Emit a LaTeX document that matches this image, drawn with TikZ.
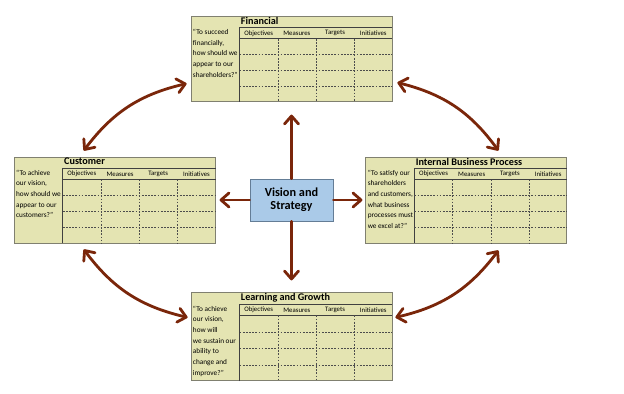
\documentclass[tikz,border=0pt]{standalone}
\usepackage{fontspec}
\setmainfont{Carlito}
\usetikzlibrary{arrows.meta, positioning, calc}

\definecolor{khaki}{RGB}{228,228,178}
\definecolor{boxline}{RGB}{128,128,112}
\definecolor{rust}{RGB}{122,38,10}
\definecolor{skyfill}{RGB}{170,202,232}
\definecolor{skyline}{RGB}{100,125,150}

\begin{document}
\begin{tikzpicture}[
    x=0.03cm, y=-0.03cm,
    >={Straight Barb[length=0.24cm, width=0.42cm, round]},
    panel/.style={rectangle, draw=boxline, fill=khaki, line width=0.7pt, minimum width=6.03cm, inner sep=0pt},
    vision/.style={rectangle, draw=skyline, fill=skyfill, line width=0.7pt, minimum width=2.49cm, minimum height=1.26cm, align=center, font=\fontsize{10.5}{11}\selectfont\bfseries},
    title/.style={anchor=north west, inner sep=1pt, font=\fontsize{8.7}{9}\selectfont\bfseries},
    question/.style={anchor=north west, align=left, inner sep=1pt, font=\fontsize{6.2}{9.1}\selectfont},
    head/.style={inner sep=0pt, font=\fontsize{5.8}{6}\selectfont},
    tableline/.style={draw=black!75, line width=0.6pt},
    gridline/.style={draw=black!70, line width=0.4pt, dash pattern=on 1.5pt off 1.2pt},
    arrow/.style={->, draw=rust, line width=2.4pt, line cap=round},
    twoway/.style={arrow, <->, bend left=20}
]
\useasboundingbox (0,0) rectangle (624,393);

% Centre
\node[vision] (vis) at (291.5,200) {Vision and\\Strategy};

% Perspectives
\node[panel, minimum height=2.55cm, above=2.31cm of vis] (fin) {};
\node[panel, minimum height=2.58cm, left=1.02cm of vis] (cust) {};
\node[panel, minimum height=2.58cm, right=0.96cm of vis] (int) {};
\node[panel, minimum height=2.64cm, below=2.13cm of vis] (learn) {};

% Titles
\node[title] (fin-t) at ($(fin.north west)+(49,0)$) {Financial};
\node[title] (cust-t) at ($(cust.north west)+(49,0)$) {Customer};
\node[title] (int-t) at ($(int.north west)+(49,0)$) {Internal Business Process};
\node[title] (learn-t) at ($(learn.north west)+(49,0)$) {Learning and Growth};

% Questions
\node[question] (fin-q) at ($(fin.north west)+(1,12)$) {“To succeed\\financially,\\how should we\\appear to our\\shareholders?”};
\node[question] (cust-q) at ($(cust.north west)+(1,12)$) {“To achieve\\our vision,\\how should we\\appear to our\\customers?”};
\node[question] (int-q) at ($(int.north west)+(1,12)$) {“To satisfy our\\shareholders\\and customers,\\what business\\processes must\\we excel at?”};
\node[question] (learn-q) at ($(learn.north west)+(1,12)$) {“To achieve\\our vision,\\how will\\we sustain our\\ability to\\change and\\improve?”};

% Tables
\foreach \b in {fin,cust,int,learn} {
  \coordinate (\b-tl) at ($(\b.north west)+(49,12)$);
  \coordinate (\b-hd) at ($(\b-tl)+(0,11)$);
  \draw[tableline] (\b-tl |- \b.south) -- (\b-tl) -- (\b-tl -| \b.east);
  \draw[tableline] (\b-hd) -- (\b-hd -| \b.east);
  \foreach \i in {1,2,3} {
    \path ($(\b-hd)!\i/4!(\b-hd |- \b.south)$) coordinate (\b-r\i);
    \draw[gridline] (\b-r\i) -- (\b-r\i -| \b.east);
    \path ($(\b-hd)!\i/4!(\b-hd -| \b.east)$) coordinate (\b-c\i);
    \draw[gridline] (\b-c\i) -- (\b-c\i |- \b.south);
  }
  \foreach \h [count=\i] in {Objectives, Measures, Targets, Initiatives}
    \node[head] (\b-h\i) at ($(\b-tl)!{(2*\i-1)/8}!(\b-tl -| \b.east)+(0,5.5)$) {\h};
}

% Arrows from the centre
\draw[arrow, shorten >=0.39cm] (vis) -- (fin);
\draw[arrow, shorten >=0.36cm] (vis) -- (learn);
\draw[arrow, shorten >=0.12cm] (vis) -- (cust);
\draw[arrow, shorten >=0.09cm] (vis) -- (int);

% Ends of the ring arrows
\coordinate (cust-up) at ($(cust.north west)+(70,-6)$);
\coordinate (fin-left) at ($(fin.south west)+(-4,-18)$);
\coordinate (fin-right) at ($(fin.south east)+(5,-19)$);
\coordinate (int-up) at ($(int.north west)+(133,-6)$);
\coordinate (int-down) at ($(int.south west)+(133,7)$);
\coordinate (learn-right) at ($(learn.north east)+(3,25)$);
\coordinate (learn-left) at ($(learn.north west)+(-3,25)$);
\coordinate (cust-down) at ($(cust.south west)+(70,6)$);

% Ring arrows
\draw[twoway] (cust-up) to (fin-left);
\draw[twoway] (fin-right) to (int-up);
\draw[twoway] (int-down) to (learn-right);
\draw[twoway] (learn-left) to (cust-down);

\end{tikzpicture}
\end{document}
